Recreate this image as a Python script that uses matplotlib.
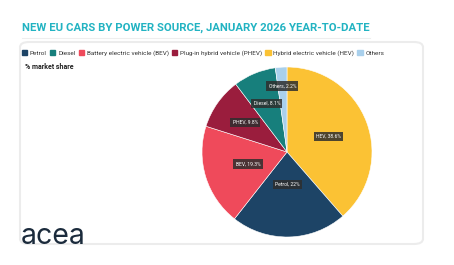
import matplotlib.pyplot as plt
import matplotlib.patches as mpatches
import numpy as np

# data
sources = ['Hybrid electric vehicle (HEV)', 'Petrol', 'Battery electric vehicle (BEV)',
           'Plug-in hybrid vehicle (PHEV)', 'Diesel', 'Others']
short = ['HEV', 'Petrol', 'BEV', 'PHEV', 'Diesel', 'Others']
share = [38.6, 22.0, 19.3, 9.8, 8.1, 2.2]
colors = ['#fbc234', '#1d4466', '#ef4a5b', '#9a1d3d', '#177f7c', '#a9d0ec']
legend_order = ['Petrol', 'Diesel', 'Battery electric vehicle (BEV)',
                'Plug-in hybrid vehicle (PHEV)', 'Hybrid electric vehicle (HEV)', 'Others']
label_dist = [0.52, 0.38, 0.48, 0.60, 0.62, 0.78]

plt.rcParams['font.family'] = ['Roboto', 'DejaVu Sans']

fig = plt.figure(figsize=(4.54, 2.65), dpi=100)
W, H = 454, 265

fig.text(22 / W, 1 - 28 / H, 'NEW EU CARS BY POWER SOURCE, JANUARY 2026 YEAR-TO-DATE',
         fontsize=8.2, fontweight='bold', color='#22b3c2', va='center', ha='left')
fig.add_artist(plt.Line2D([22 / W, 370 / W], [1 - 38 / H, 1 - 38 / H], color='#eeeeee', lw=0.8))

card = mpatches.FancyBboxPatch((20 / W, 1 - 244 / H), 403 / W, 202 / H,
                               boxstyle='round,pad=0,rounding_size=0.02',
                               transform=fig.transFigure, facecolor='white',
                               edgecolor='#ececec', lw=1.5, zorder=-5)
fig.add_artist(card)

handles = [mpatches.Patch(color=colors[sources.index(s)]) for s in legend_order]
fig.legend(handles, legend_order, loc='center left', bbox_to_anchor=(19 / W, 1 - 53 / H),
           ncol=6, frameon=False, fontsize=4.6, handlelength=0.8, handleheight=0.8,
           handletextpad=0.4, columnspacing=0.55, borderpad=0, labelcolor='#333333')
fig.text(25 / W, 1 - 67 / H, '% market share', fontsize=5, fontweight='bold',
         color='#222222', va='center')

fig.text(21 / W, 1 - 236 / H, 'acea', fontsize=20.5, color='#1b2b3c', va='center',
         family=['Inter', 'Roboto'])

ax = fig.add_axes([202 / W, 28 / H, 170 / W, 170 / H])
ax.set_zorder(2)
wedges, _ = ax.pie(share, colors=colors, startangle=90, counterclock=False,
                   wedgeprops=dict(edgecolor='white', linewidth=0.4))
ax.set_xlim(-1, 1)
ax.set_ylim(-1, 1)
ax.set_aspect('equal')
ax.axis('off')

for w, name, v, d in zip(wedges, short, share, label_dist):
    ang = np.deg2rad((w.theta1 + w.theta2) / 2)
    txt = f'{name}, {v:g}%'
    ax.text(d * np.cos(ang), d * np.sin(ang), txt, ha='center', va='center',
            fontsize=3.6, color='white',
            bbox=dict(boxstyle='square,pad=0.45', facecolor='#2e2e2e', edgecolor='none', alpha=0.85))

fig.savefig('out.png', dpi=100)
